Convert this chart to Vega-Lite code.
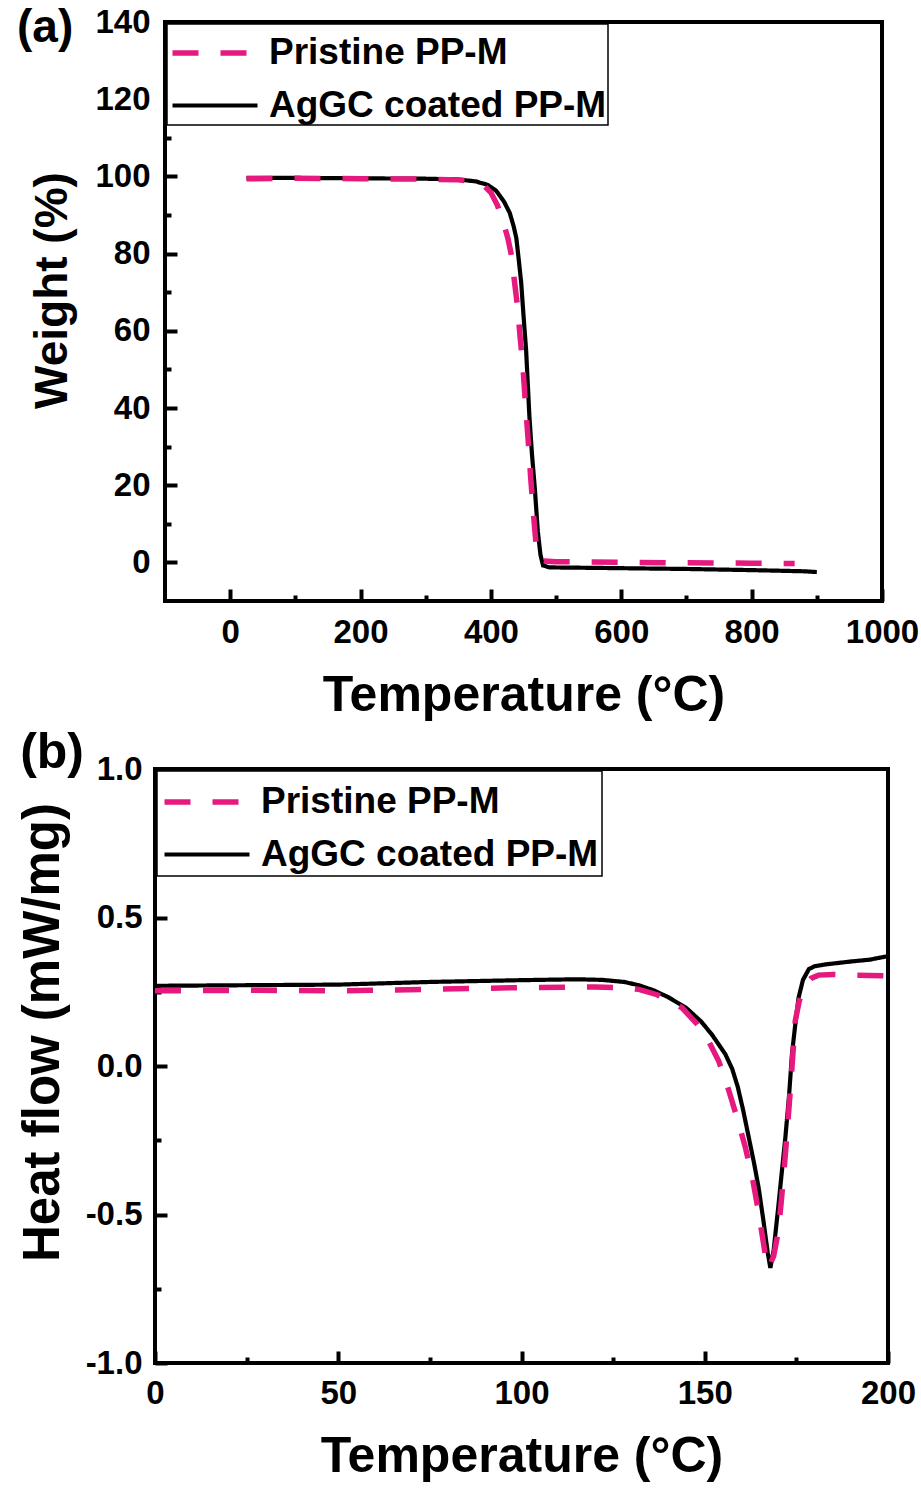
{
  "$schema": "https://vega.github.io/schema/vega-lite/v6.json",
  "background": "white",
  "padding": {"left": 8, "top": 2, "right": 0, "bottom": 0},
  "spacing": 3,
  "config": {
    "font": "Liberation Sans",
    "view": {"stroke": "black", "strokeWidth": 4},
    "axis": {
      "grid": false,
      "domain": false,
      "tickColor": "black",
      "tickWidth": 4,
      "labelFont": "Liberation Sans",
      "labelFontSize": 33,
      "labelFontWeight": "bold",
      "labelColor": "black",
      "labelFlush": false,
      "labelOverlap": false,
      "titleFont": "Liberation Sans",
      "titleFontSize": 50,
      "titleFontWeight": "bold",
      "titleColor": "black"
    },
    "legend": {
      "orient": "top-left",
      "offset": 2,
      "strokeColor": "black",
      "strokeWidth": 1.5,
      "fillColor": "white",
      "padding": 1,
      "labelFont": "Liberation Sans",
      "labelFontSize": 37,
      "labelFontWeight": "bold",
      "labelColor": "black",
      "labelLimit": 500,
      "symbolType": "M-1.7,0H1.7",
      "symbolSize": 2500,
      "symbolOffset": 19,
      "symbolStrokeWidth": 4.5,
      "rowPadding": 7,
      "labelOffset": 26
    }
  },
  "vconcat": [
    {
      "spacing": 0,
      "resolve": {"scale": {"color": "independent", "strokeDash": "independent", "strokeWidth": "independent"}},
      "hconcat": [
        {
          "width": 1, "height": 1,
          "view": {"stroke": null},
          "data": {"values": [{}]},
          "mark": {"type": "point", "opacity": 0},
          "encoding": {}
        },
        {
          "width": 717,
          "height": 579,
          "layer": [
            {
              "data": {"values": [
                {"s": "AgGC coated PP-M", "T": 25, "W": 99.6},
                {"s": "AgGC coated PP-M", "T": 100, "W": 99.6},
                {"s": "AgGC coated PP-M", "T": 200, "W": 99.5},
                {"s": "AgGC coated PP-M", "T": 300, "W": 99.4},
                {"s": "AgGC coated PP-M", "T": 350, "W": 99.2},
                {"s": "AgGC coated PP-M", "T": 377, "W": 98.7},
                {"s": "AgGC coated PP-M", "T": 395, "W": 97.8},
                {"s": "AgGC coated PP-M", "T": 408, "W": 96.3},
                {"s": "AgGC coated PP-M", "T": 420, "W": 93.5},
                {"s": "AgGC coated PP-M", "T": 429, "W": 90.5},
                {"s": "AgGC coated PP-M", "T": 435, "W": 87},
                {"s": "AgGC coated PP-M", "T": 439, "W": 84},
                {"s": "AgGC coated PP-M", "T": 443, "W": 78},
                {"s": "AgGC coated PP-M", "T": 446.5, "W": 72.4},
                {"s": "AgGC coated PP-M", "T": 450, "W": 64},
                {"s": "AgGC coated PP-M", "T": 454, "W": 55},
                {"s": "AgGC coated PP-M", "T": 459, "W": 38},
                {"s": "AgGC coated PP-M", "T": 463, "W": 28},
                {"s": "AgGC coated PP-M", "T": 467, "W": 20},
                {"s": "AgGC coated PP-M", "T": 472, "W": 8},
                {"s": "AgGC coated PP-M", "T": 476, "W": 2},
                {"s": "AgGC coated PP-M", "T": 480, "W": -0.8},
                {"s": "AgGC coated PP-M", "T": 490, "W": -1.3},
                {"s": "AgGC coated PP-M", "T": 550, "W": -1.4},
                {"s": "AgGC coated PP-M", "T": 600, "W": -1.5},
                {"s": "AgGC coated PP-M", "T": 700, "W": -1.7},
                {"s": "AgGC coated PP-M", "T": 800, "W": -2.0},
                {"s": "AgGC coated PP-M", "T": 880, "W": -2.3},
                {"s": "AgGC coated PP-M", "T": 900, "W": -2.5},
                {"s": "Pristine PP-M", "T": 25, "W": 99.4},
                {"s": "Pristine PP-M", "T": 100, "W": 99.5},
                {"s": "Pristine PP-M", "T": 200, "W": 99.4},
                {"s": "Pristine PP-M", "T": 300, "W": 99.3},
                {"s": "Pristine PP-M", "T": 350, "W": 99.1},
                {"s": "Pristine PP-M", "T": 375, "W": 98.6},
                {"s": "Pristine PP-M", "T": 390, "W": 97.5},
                {"s": "Pristine PP-M", "T": 400, "W": 95.8},
                {"s": "Pristine PP-M", "T": 410, "W": 92.5},
                {"s": "Pristine PP-M", "T": 420, "W": 87.5},
                {"s": "Pristine PP-M", "T": 426, "W": 84},
                {"s": "Pristine PP-M", "T": 431, "W": 80},
                {"s": "Pristine PP-M", "T": 436, "W": 73},
                {"s": "Pristine PP-M", "T": 441, "W": 66},
                {"s": "Pristine PP-M", "T": 445, "W": 58},
                {"s": "Pristine PP-M", "T": 449, "W": 51},
                {"s": "Pristine PP-M", "T": 453, "W": 41},
                {"s": "Pristine PP-M", "T": 457, "W": 32},
                {"s": "Pristine PP-M", "T": 461, "W": 22},
                {"s": "Pristine PP-M", "T": 464, "W": 15.5},
                {"s": "Pristine PP-M", "T": 467, "W": 9},
                {"s": "Pristine PP-M", "T": 470, "W": 3.5},
                {"s": "Pristine PP-M", "T": 474, "W": 1.2},
                {"s": "Pristine PP-M", "T": 480, "W": 0.4},
                {"s": "Pristine PP-M", "T": 500, "W": 0.2},
                {"s": "Pristine PP-M", "T": 600, "W": 0.0},
                {"s": "Pristine PP-M", "T": 700, "W": -0.1},
                {"s": "Pristine PP-M", "T": 800, "W": -0.2},
                {"s": "Pristine PP-M", "T": 866, "W": -0.3}
              ]},
              "mark": {"type": "line"},
              "encoding": {
                "x": {
                  "field": "T", "type": "quantitative",
                  "scale": {"domain": [-100, 1000], "nice": false, "zero": false},
                  "axis": {
                    "title": "Temperature (°C)",
                    "values": [0, 100, 200, 300, 400, 500, 600, 700, 800, 900, 1000],
                    "labelExpr": "datum.value % 200 === 0 ? format(datum.value, 'd') : ''",
                    "tickSize": {"condition": {"test": "datum.value % 200 === 0", "value": -12}, "value": -6},
                    "labelPadding": 27,
                    "titlePadding": 15
                  }
                },
                "y": {
                  "field": "W", "type": "quantitative",
                  "scale": {"domain": [-10, 140], "nice": false, "zero": false},
                  "axis": {
                    "title": "Weight (%)",
                    "values": [0, 10, 20, 30, 40, 50, 60, 70, 80, 90, 100, 110, 120, 130, 140],
                    "labelExpr": "datum.value % 20 === 0 ? format(datum.value, 'd') : ''",
                    "tickSize": {"condition": {"test": "datum.value % 20 === 0", "value": -12}, "value": -6},
                    "labelPadding": 27,
                    "titlePadding": 18,
                    "titleFontSize": 46,
                    "titleY": 268
                  }
                },
                "color": {
                  "field": "s", "type": "nominal",
                  "scale": {"domain": ["Pristine PP-M", "AgGC coated PP-M"], "range": ["#E5197E", "#000000"]},
                  "legend": {"title": null}
                },
                "strokeDash": {
                  "field": "s", "type": "nominal",
                  "scale": {"domain": ["Pristine PP-M", "AgGC coated PP-M"], "range": [[26, 22], [1, 0]]},
                  "legend": {"title": null}
                },
                "strokeWidth": {
                  "field": "s", "type": "nominal",
                  "scale": {"domain": ["Pristine PP-M", "AgGC coated PP-M"], "range": [5.5, 4.2]},
                  "legend": null
                }
              }
            },
            {
              "data": {"values": [{"label": "(a)"}]},
              "mark": {"type": "text", "fontSize": 46, "fontWeight": "bold", "align": "left", "baseline": "middle", "color": "black"},
              "encoding": {
                "text": {"field": "label"},
                "x": {"datum": -327},
                "y": {"datum": 138.5}
              }
            }
          ]
        }
      ]
    },
    {
      "spacing": 0,
      "resolve": {"scale": {"color": "independent", "strokeDash": "independent", "strokeWidth": "independent"}},
      "hconcat": [
        {
          "width": 1, "height": 1,
          "view": {"stroke": null},
          "data": {"values": [{}]},
          "mark": {"type": "point", "opacity": 0},
          "encoding": {}
        },
        {
          "width": 733,
          "height": 594,
          "layer": [
            {
              "data": {"values": [
                {"s": "AgGC coated PP-M", "T": 0, "H": 0.270},
                {"s": "AgGC coated PP-M", "T": 25, "H": 0.272},
                {"s": "AgGC coated PP-M", "T": 50, "H": 0.274},
                {"s": "AgGC coated PP-M", "T": 75, "H": 0.283},
                {"s": "AgGC coated PP-M", "T": 100, "H": 0.289},
                {"s": "AgGC coated PP-M", "T": 115, "H": 0.292},
                {"s": "AgGC coated PP-M", "T": 122, "H": 0.290},
                {"s": "AgGC coated PP-M", "T": 128, "H": 0.283},
                {"s": "AgGC coated PP-M", "T": 132, "H": 0.272},
                {"s": "AgGC coated PP-M", "T": 136, "H": 0.255},
                {"s": "AgGC coated PP-M", "T": 140, "H": 0.232},
                {"s": "AgGC coated PP-M", "T": 145, "H": 0.195},
                {"s": "AgGC coated PP-M", "T": 149, "H": 0.150},
                {"s": "AgGC coated PP-M", "T": 152, "H": 0.105},
                {"s": "AgGC coated PP-M", "T": 155.6, "H": 0.04},
                {"s": "AgGC coated PP-M", "T": 157.5, "H": -0.01},
                {"s": "AgGC coated PP-M", "T": 159, "H": -0.07},
                {"s": "AgGC coated PP-M", "T": 160.5, "H": -0.15},
                {"s": "AgGC coated PP-M", "T": 162, "H": -0.24},
                {"s": "AgGC coated PP-M", "T": 163.5, "H": -0.33},
                {"s": "AgGC coated PP-M", "T": 164.7, "H": -0.41},
                {"s": "AgGC coated PP-M", "T": 166, "H": -0.52},
                {"s": "AgGC coated PP-M", "T": 167.2, "H": -0.63},
                {"s": "AgGC coated PP-M", "T": 167.9, "H": -0.68},
                {"s": "AgGC coated PP-M", "T": 168.8, "H": -0.62},
                {"s": "AgGC coated PP-M", "T": 170.1, "H": -0.47},
                {"s": "AgGC coated PP-M", "T": 171, "H": -0.36},
                {"s": "AgGC coated PP-M", "T": 172, "H": -0.24},
                {"s": "AgGC coated PP-M", "T": 173, "H": -0.10},
                {"s": "AgGC coated PP-M", "T": 173.8, "H": 0.04},
                {"s": "AgGC coated PP-M", "T": 174.7, "H": 0.14},
                {"s": "AgGC coated PP-M", "T": 175.6, "H": 0.23},
                {"s": "AgGC coated PP-M", "T": 176.8, "H": 0.29},
                {"s": "AgGC coated PP-M", "T": 178.4, "H": 0.326},
                {"s": "AgGC coated PP-M", "T": 180, "H": 0.336},
                {"s": "AgGC coated PP-M", "T": 182.9, "H": 0.342},
                {"s": "AgGC coated PP-M", "T": 190, "H": 0.352},
                {"s": "AgGC coated PP-M", "T": 195, "H": 0.358},
                {"s": "AgGC coated PP-M", "T": 200, "H": 0.370},
                {"s": "Pristine PP-M", "T": 0, "H": 0.253},
                {"s": "Pristine PP-M", "T": 25, "H": 0.255},
                {"s": "Pristine PP-M", "T": 50, "H": 0.253},
                {"s": "Pristine PP-M", "T": 75, "H": 0.258},
                {"s": "Pristine PP-M", "T": 100, "H": 0.264},
                {"s": "Pristine PP-M", "T": 120, "H": 0.266},
                {"s": "Pristine PP-M", "T": 128, "H": 0.263},
                {"s": "Pristine PP-M", "T": 132, "H": 0.258},
                {"s": "Pristine PP-M", "T": 137, "H": 0.240},
                {"s": "Pristine PP-M", "T": 141, "H": 0.215},
                {"s": "Pristine PP-M", "T": 143.8, "H": 0.196},
                {"s": "Pristine PP-M", "T": 148, "H": 0.140},
                {"s": "Pristine PP-M", "T": 151, "H": 0.085},
                {"s": "Pristine PP-M", "T": 153.8, "H": 0.017},
                {"s": "Pristine PP-M", "T": 156.5, "H": -0.08},
                {"s": "Pristine PP-M", "T": 158.8, "H": -0.174},
                {"s": "Pristine PP-M", "T": 161, "H": -0.27},
                {"s": "Pristine PP-M", "T": 163, "H": -0.376},
                {"s": "Pristine PP-M", "T": 164.8, "H": -0.50},
                {"s": "Pristine PP-M", "T": 166.5, "H": -0.634},
                {"s": "Pristine PP-M", "T": 167.4, "H": -0.68},
                {"s": "Pristine PP-M", "T": 168.8, "H": -0.64},
                {"s": "Pristine PP-M", "T": 170.1, "H": -0.556},
                {"s": "Pristine PP-M", "T": 171, "H": -0.44},
                {"s": "Pristine PP-M", "T": 172, "H": -0.297},
                {"s": "Pristine PP-M", "T": 172.8, "H": -0.17},
                {"s": "Pristine PP-M", "T": 173.4, "H": -0.073},
                {"s": "Pristine PP-M", "T": 174.7, "H": 0.152},
                {"s": "Pristine PP-M", "T": 175.8, "H": 0.22},
                {"s": "Pristine PP-M", "T": 177.5, "H": 0.275},
                {"s": "Pristine PP-M", "T": 179, "H": 0.295},
                {"s": "Pristine PP-M", "T": 181, "H": 0.306},
                {"s": "Pristine PP-M", "T": 185, "H": 0.308},
                {"s": "Pristine PP-M", "T": 190, "H": 0.306},
                {"s": "Pristine PP-M", "T": 195, "H": 0.305},
                {"s": "Pristine PP-M", "T": 200, "H": 0.303}
              ]},
              "mark": {"type": "line"},
              "encoding": {
                "x": {
                  "field": "T", "type": "quantitative",
                  "scale": {"domain": [0, 200], "nice": false, "zero": false},
                  "axis": {
                    "title": "Temperature (°C)",
                    "values": [0, 25, 50, 75, 100, 125, 150, 175, 200],
                    "labelExpr": "datum.value % 50 === 0 ? format(datum.value, 'd') : ''",
                    "tickSize": {"condition": {"test": "datum.value % 50 === 0", "value": -12}, "value": -6},
                    "labelPadding": 26,
                    "titlePadding": 15
                  }
                },
                "y": {
                  "field": "H", "type": "quantitative",
                  "scale": {"domain": [-1, 1], "nice": false, "zero": false},
                  "axis": {
                    "title": "Heat flow (mW/mg)",
                    "values": [-1, -0.75, -0.5, -0.25, 0, 0.25, 0.5, 0.75, 1],
                    "labelExpr": "datum.value * 4 % 2 === 0 ? (datum.value < 0 ? '-' + format(-datum.value, '.1f') : format(datum.value, '.1f')) : ''",
                    "tickSize": {"condition": {"test": "datum.value * 4 % 2 === 0", "value": -12}, "value": -6},
                    "labelPadding": 25,
                    "titlePadding": 16,
                    "titleFontSize": 51,
                    "titleY": 263
                  }
                },
                "color": {
                  "field": "s", "type": "nominal",
                  "scale": {"domain": ["Pristine PP-M", "AgGC coated PP-M"], "range": ["#E5197E", "#000000"]},
                  "legend": {"title": null, "padding": 3}
                },
                "strokeDash": {
                  "field": "s", "type": "nominal",
                  "scale": {"domain": ["Pristine PP-M", "AgGC coated PP-M"], "range": [[26, 22], [1, 0]]},
                  "legend": {"title": null, "padding": 3}
                },
                "strokeWidth": {
                  "field": "s", "type": "nominal",
                  "scale": {"domain": ["Pristine PP-M", "AgGC coated PP-M"], "range": [5.5, 4.2]},
                  "legend": null
                }
              }
            },
            {
              "data": {"values": [{"label": "(b)"}]},
              "mark": {"type": "text", "fontSize": 50, "fontWeight": "bold", "align": "left", "baseline": "middle", "color": "black"},
              "encoding": {
                "text": {"field": "label"},
                "x": {"datum": -36.8},
                "y": {"datum": 1.054}
              }
            }
          ]
        }
      ]
    }
  ],
  "resolve": {"scale": {"color": "independent", "strokeDash": "independent", "strokeWidth": "independent"}}
}
